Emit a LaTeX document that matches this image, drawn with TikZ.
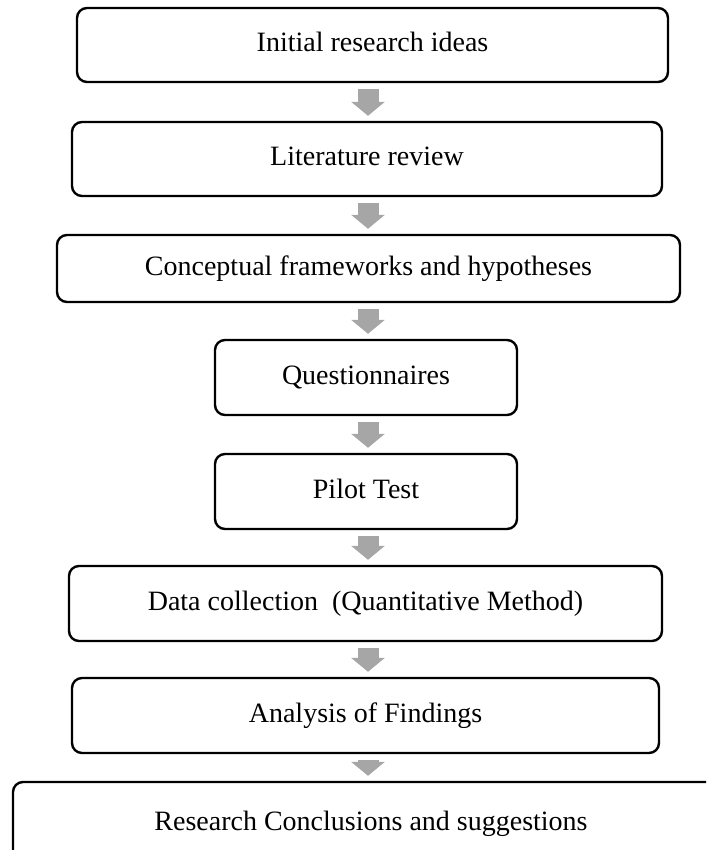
\documentclass[tikz,border=0pt]{standalone}
\usepackage{fontspec}
\setmainfont{Liberation Serif}
\usetikzlibrary{arrows.meta,calc}
\definecolor{arrowgray}{HTML}{A6A6A6}
\tikzset{
  stagebox/.style={draw=black, line width=2.4pt, rounded corners=10pt,
    inner sep=0pt, align=center, text height=19pt, text depth=6pt,
    font=\fontsize{28}{34}\selectfont},
  flowarrow/.style={draw=arrowgray, line width=21pt,
    -{Triangle[width=33pt,length=14pt]}}
}
\begin{document}
\begin{tikzpicture}[x=1pt,y=-1pt]
  \useasboundingbox (0,0) rectangle (706,850);
  \clip (0,0) rectangle (706,850);
  % process stages, top to bottom
  \node[stagebox, minimum width=591pt, minimum height=74pt] (s1) at (372.5,45) {Initial research ideas};
  \node[stagebox, minimum width=590pt, minimum height=74pt] (s2) at (367,159) {Literature review};
  \node[stagebox, minimum width=623pt, minimum height=67pt] (s3) at (368.5,268.5) {Conceptual frameworks and hypotheses};
  \node[stagebox, minimum width=302pt, minimum height=75pt] (s4) at (366,377.5) {Questionnaires};
  \node[stagebox, minimum width=302pt, minimum height=75pt] (s5) at (366,491.5) {Pilot Test};
  \node[stagebox, minimum width=593pt, minimum height=75pt] (s6) at (365.5,603.5) {Data collection~ (Quantitative Method)};
  \node[stagebox, minimum width=587pt, minimum height=75pt] (s7) at (365.5,715.5) {Analysis of Findings};
  \node[stagebox, minimum width=716pt, minimum height=84pt] (s8) at (371,824) {Research Conclusions and suggestions};
  % common axis of the arrows
  \coordinate (ax) at (368,0);
  \foreach \a/\b in {s1/s2,s2/s3,s3/s4,s4/s5,s5/s6,s6/s7,s7/s8}{
    \draw[flowarrow] ($(\a.south -| ax)+(0,6)$) -- ($(\b.north -| ax)+(0,-5)$);
  }
\end{tikzpicture}
\end{document}
